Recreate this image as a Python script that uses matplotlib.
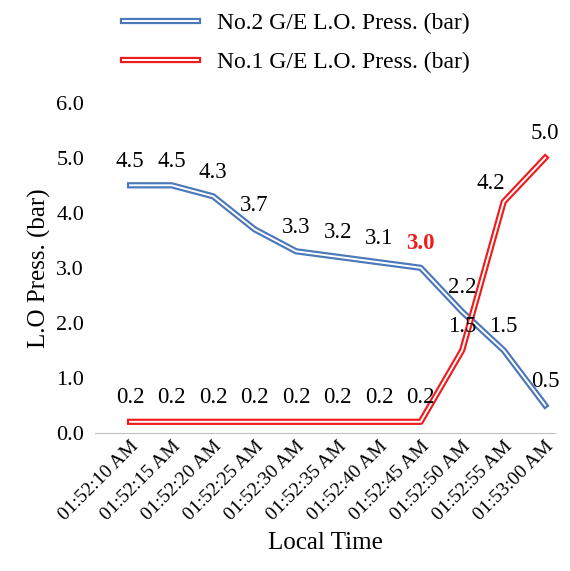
import matplotlib
matplotlib.use("Agg")
import matplotlib.pyplot as plt
import matplotlib.patheffects as pe

times = ["01:52:10 AM","01:52:15 AM","01:52:20 AM","01:52:25 AM","01:52:30 AM","01:52:35 AM",
         "01:52:40 AM","01:52:45 AM","01:52:50 AM","01:52:55 AM","01:53:00 AM"]
no2 = [4.5,4.5,4.3,3.7,3.3,3.2,3.1,3.0,2.2,1.5,0.5]
no1 = [0.2,0.2,0.2,0.2,0.2,0.2,0.2,0.2,1.5,4.2,5.0]

plt.rcParams['font.family'] = ['Liberation Serif', 'DejaVu Serif']
fig = plt.figure(figsize=(5.7, 5.71), dpi=100)
ax = fig.add_axes([0.167, 0.242, 0.807, 0.578])
x = list(range(len(times)))

def dbl(color):
    return [pe.Stroke(linewidth=4.5, foreground=color), pe.Normal()]

l2, = ax.plot(x, no2, color='white', lw=1.4, path_effects=dbl('#4a78b8'), label='No.2 G/E L.O. Press. (bar)')
l1, = ax.plot(x, no1, color='white', lw=1.4, path_effects=dbl('#ee1c1c'), label='No.1 G/E L.O. Press. (bar)')

fs = 16.5
for i, v in enumerate(no2):
    if i == 7:
        ax.text(i, v + 0.25, f"{v:.1f}", ha='center', va='bottom', fontsize=fs, color='#ee1c1c', fontweight='bold')
    else:
        ax.text(i, v + 0.25, f"{v:.1f}", ha='center', va='bottom', fontsize=fs)
for i, v in enumerate(no1):
    if i == 9:
        ax.text(i - 0.3, v + 0.15, f"{v:.1f}", ha='center', va='bottom', fontsize=fs)
    else:
        ax.text(i, v + 0.25, f"{v:.1f}", ha='center', va='bottom', fontsize=fs)

ax.set_ylim(0, 6)
ax.set_yticks([0,1,2,3,4,5,6])
ax.set_yticklabels([f"{t:.1f}" for t in range(7)], fontsize=16)
ax.set_xlim(-0.84, 10.24)
ax.set_xticks(x)
ax.set_xticklabels(times, rotation=45, ha='right', rotation_mode='anchor', fontsize=14)
for s in ['top','right','left']:
    ax.spines[s].set_visible(False)
ax.spines['bottom'].set_color('#bfbfbf')
ax.tick_params(axis='both', length=0)
ax.tick_params(axis='y', pad=8)
ax.set_ylabel('L.O Press. (bar)', fontsize=18)
ax.set_xlabel('Local Time', fontsize=18, labelpad=6)
fig.legend(handles=[l2, l1], loc='upper center', bbox_to_anchor=(0.52, 1.015), frameon=False,
           fontsize=17, handlelength=3.2, labelspacing=0.75)
fig.savefig('out.png', dpi=100)
